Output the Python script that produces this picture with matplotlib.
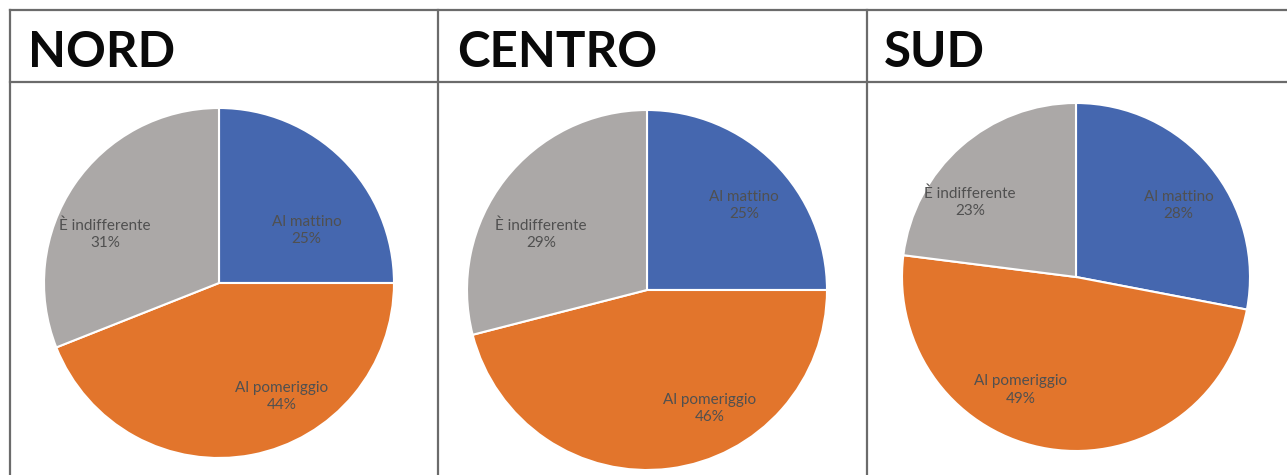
import matplotlib.pyplot as plt
from matplotlib.lines import Line2D

# ---------------- DATA ----------------

regions = ["NORD", "CENTRO", "SUD"]
categories = ["Al mattino", "Al pomeriggio", "È indifferente"]

nord_values = [25, 44, 31]
centro_values = [25, 46, 29]
sud_values = [28, 49, 23]

all_values = [nord_values, centro_values, sud_values]

# ---------------- STYLE / LAYOUT ----------------

colors = ["#4567AF", "#E2752C", "#ABA8A7"]
label_color = "#505050"

W, H = 1287, 475

# pie centre (px) and radius (px)
pie_boxes = [
    (219, 283, 175),
    (647, 290, 180),
    (1076, 277, 174),
]

# label position inside each pie, in unit-radius coordinates
label_pos = [
    [(0.50, 0.30), (0.36, -0.65), (-0.65, 0.28)],
    [(0.54, 0.47), (0.35, -0.66), (-0.59, 0.31)],
    [(0.59, 0.41), (-0.32, -0.65), (-0.61, 0.43)],
]

title_x = [28, 457, 884]

plt.rcParams["font.family"] = ["Lato", "DejaVu Sans"]

fig = plt.figure(figsize=(W / 100, H / 100), dpi=100)
fig.patch.set_facecolor("white")


def fx(px):
    return px / W


def fy(py):
    return 1 - py / H


# ---------------- TABLE GRID ----------------

grid_color = "#6B6B6B"
grid_lw = 1.6

for y in [10, 82]:
    fig.add_artist(Line2D([fx(10), 1], [fy(y), fy(y)], color=grid_color, lw=grid_lw))

for x in [10, 438, 867]:
    fig.add_artist(Line2D([fx(x), fx(x)], [fy(10), 0], color=grid_color, lw=grid_lw))

# ---------------- TITLES ----------------

for name, x in zip(regions, title_x):
    fig.text(fx(x), fy(67), name, fontsize=35.5, fontweight="bold",
             color="#0A0A0A", ha="left", va="baseline")

# ---------------- PIES ----------------

for values, (cx, cy, r), positions in zip(all_values, pie_boxes, label_pos):

    ax = fig.add_axes([fx(cx - r), fy(cy + r), 2 * r / W, 2 * r / H])

    ax.pie(
        values,
        colors=colors,
        startangle=90,
        counterclock=False,
        radius=1,
        wedgeprops={"edgecolor": "white", "linewidth": 1.5},
    )

    ax.set_xlim(-1, 1)
    ax.set_ylim(-1, 1)
    ax.set_aspect("equal")
    ax.axis("off")

    for cat, val, (lx, ly) in zip(categories, values, positions):
        ax.text(lx, ly, f"{cat}\n{val}%", ha="center", va="center",
                fontsize=11, color=label_color, linespacing=1.3)

fig.savefig("out.png", dpi=100, facecolor="white")
